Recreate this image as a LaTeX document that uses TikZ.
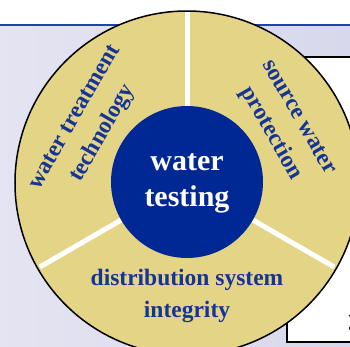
\documentclass[tikz,border=0pt]{standalone}
\usepackage{fontspec}
\setmainfont{Liberation Serif}
\definecolor{tan}{RGB}{227,213,133}
\definecolor{navy}{RGB}{0,40,148}
\definecolor{inkblue}{RGB}{22,52,150}
\definecolor{lav}{RGB}{216,216,236}
\definecolor{rulecol}{RGB}{35,65,170}
\begin{document}
\begin{tikzpicture}[x=1pt,y=1pt,
    sector/.style={text=inkblue,font=\bfseries\fontsize{23.5}{32}\selectfont,align=center},
    hub/.style={text=white,font=\bfseries\fontsize{30}{36}\selectfont,align=center}]
  \useasboundingbox (-187,-164) rectangle (163,182);
  \clip (-187,-164) rectangle (163,182);
  \fill[white] (-187,-164) rectangle (163,182);
  \shade[left color=lav!70!white,right color=lav] (-187,-164) rectangle (163,157);
  \draw[rulecol,line width=1.5] (-187,157) -- (163,157);
  \draw[line width=2,fill=white] (100,-160) rectangle (175,125);
  \node[anchor=base west,font=\bfseries\fontsize{22}{26}\selectfont] (ytext) at (158,-143) {y};
  % wheel
  \draw[line width=1.5,fill=tan] (0,-1) circle (172);
  \foreach \a in {90,210,330}
    \draw[white,line width=5] (\a:70) -- (\a:170);
  \fill[navy] (0,0) circle (76);
  \node[hub] (hub) at (0,-1) {water\\testing};
  \node[sector,rotate=60] (treat) at (150:112) {water treatment\\technology};
  \node[sector,rotate=-60] (source) at (30:112) {source water\\protection};
  \node[sector] (distrib) at (270:114) {distribution system\\integrity};
\end{tikzpicture}
\end{document}
